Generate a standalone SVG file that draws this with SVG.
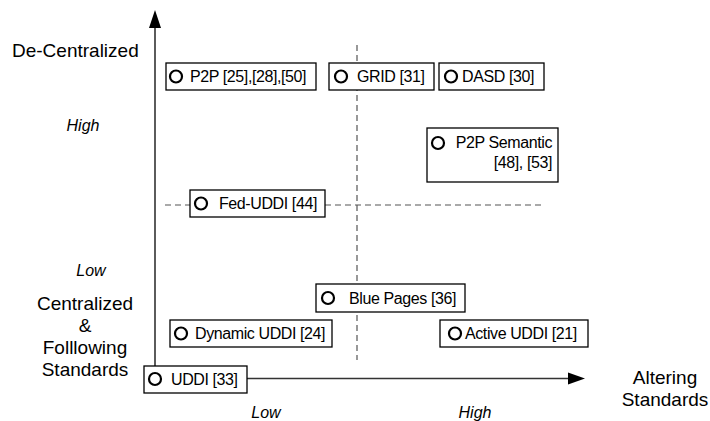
<svg xmlns="http://www.w3.org/2000/svg" width="710" height="421" viewBox="0 0 710 421">
<style>
  .box { fill: #fff; stroke: #000; stroke-width: 1.3; }
  .dot { fill: none; stroke: #000; stroke-width: 2.2; }
  .t { font-family: "Liberation Sans", Arial, sans-serif; font-size: 16px; letter-spacing: -0.4px; fill: #000; }
  .lbl { font-family: "Liberation Sans", Arial, sans-serif; font-size: 19px; fill: #000; }
  .it { font-family: "Liberation Sans", Arial, sans-serif; font-size: 16px; font-style: italic; fill: #000; }
  .axis { stroke: #333; stroke-width: 1.6; fill: none; }
  .dash { stroke: #555; stroke-width: 1.2; stroke-dasharray: 6 4; fill: none; }
</style>
<rect width="710" height="421" fill="#fff"/>

<g id="connectors">
  <line class="dash" x1="357" y1="45" x2="357" y2="360"/>
  <line class="dash" x1="165" y1="205" x2="545" y2="205"/>
  <line class="axis" x1="155" y1="27" x2="155" y2="366"/>
  <polygon points="155,10 149,28 161,28" fill="#000"/>
  <line class="axis" x1="247" y1="378.5" x2="569" y2="378.5"/>
  <polygon points="585,378.5 568,372.5 568,384.5" fill="#000"/>
</g>

<g id="labels">
  <text class="lbl" x="12" y="57">De-Centralized</text>
  <text class="it" x="83" y="131" text-anchor="middle">High</text>
  <text class="it" x="91" y="276" text-anchor="middle">Low</text>
  <text class="lbl" x="85" y="310" text-anchor="middle">Centralized</text>
  <text class="lbl" x="85" y="332" text-anchor="middle">&amp;</text>
  <text class="lbl" x="85" y="354" text-anchor="middle">Folllowing</text>
  <text class="lbl" x="85" y="376" text-anchor="middle">Standards</text>
  <text class="lbl" x="665" y="384" text-anchor="middle">Altering</text>
  <text class="lbl" x="665" y="406" text-anchor="middle">Standards</text>
  <text class="it" x="266" y="418" text-anchor="middle">Low</text>
  <text class="it" x="475" y="418" text-anchor="middle">High</text>
</g>

<g id="p2p">
  <rect class="box" x="166" y="63" width="150" height="27"/>
  <circle class="dot" cx="176" cy="76.5" r="6"/>
  <text class="t" x="190" y="82">P2P [25],[28],[50]</text>
</g>
<g id="grid">
  <rect class="box" x="329" y="63" width="105" height="27"/>
  <circle class="dot" cx="341" cy="76.5" r="6"/>
  <text class="t" x="357" y="82">GRID [31]</text>
</g>
<g id="dasd">
  <rect class="box" x="439" y="63" width="105" height="27"/>
  <circle class="dot" cx="451" cy="76.5" r="6"/>
  <text class="t" x="462" y="82">DASD [30]</text>
</g>
<g id="p2p-semantic">
  <rect class="box" x="427" y="128" width="131" height="54"/>
  <circle class="dot" cx="438" cy="143" r="6"/>
  <text class="t" x="552" y="148" text-anchor="end">P2P Semantic</text>
  <text class="t" x="552" y="168" text-anchor="end">[48], [53]</text>
</g>
<g id="fed-uddi">
  <rect class="box" x="190" y="190" width="135" height="27"/>
  <circle class="dot" cx="201" cy="203.5" r="6"/>
  <text class="t" x="219" y="209">Fed-UDDI [44]</text>
</g>
<g id="blue-pages">
  <rect class="box" x="316" y="284" width="149" height="28"/>
  <circle class="dot" cx="328" cy="298" r="6"/>
  <text class="t" x="349" y="303.5">Blue Pages [36]</text>
</g>
<g id="dynamic-uddi">
  <rect class="box" x="170" y="320" width="162" height="27"/>
  <circle class="dot" cx="181" cy="333.5" r="6"/>
  <text class="t" x="195" y="339">Dynamic UDDI [24]</text>
</g>
<g id="active-uddi">
  <rect class="box" x="440" y="320" width="148" height="27"/>
  <circle class="dot" cx="455" cy="333.5" r="6"/>
  <text class="t" x="465" y="339">Active UDDI [21]</text>
</g>
<g id="uddi">
  <rect class="box" x="144" y="366" width="103" height="27"/>
  <circle class="dot" cx="155" cy="379" r="6"/>
  <text class="t" x="171" y="384.5">UDDI [33]</text>
</g>
</svg>
